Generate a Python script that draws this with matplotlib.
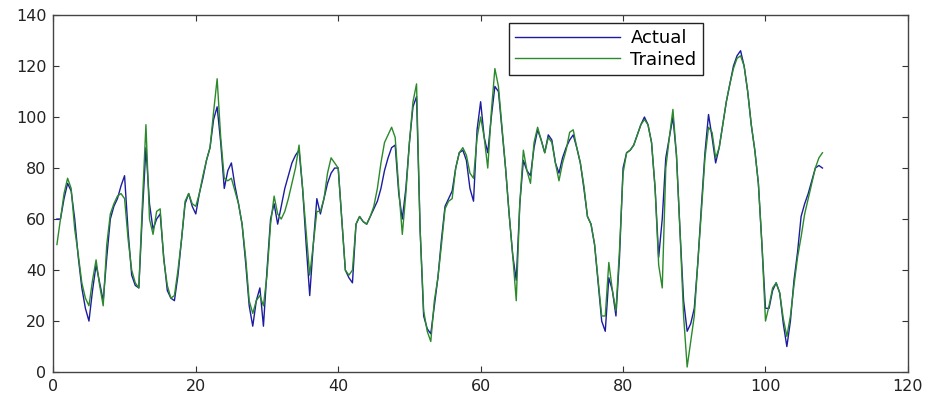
import numpy as np
import matplotlib.pyplot as plt

plt.rcParams['font.family'] = ['DejaVu Sans']

# sample positions (half steps)
x = np.arange(1, 217) * 0.5

actual = [60, 60, 68, 74, 71, 60, 45, 33, 25, 20,
          32, 42, 35, 28, 45, 60, 65, 68, 73, 77,
          55, 38, 34, 33, 62, 88, 66, 56, 60, 62,
          45, 32, 29, 28, 38, 52, 66, 70, 65, 62,
          70, 76, 83, 88, 99, 104, 90, 72, 79, 82,
          73, 66, 58, 43, 26, 18, 28, 33, 18, 40,
          60, 66, 58, 65, 72, 77, 82, 85, 87, 72,
          50, 30, 50, 68, 62, 68, 74, 78, 80, 80,
          60, 40, 37, 35, 58, 61, 59, 58, 61, 64,
          67, 72, 79, 84, 88, 89, 70, 60, 72, 90,
          104, 108, 56, 22, 17, 15, 26, 37, 52, 65,
          68, 71, 80, 86, 87, 83, 72, 67, 95, 106,
          92, 86, 100, 112, 110, 95, 80, 62, 46, 36,
          66, 83, 79, 77, 88, 95, 91, 86, 93, 91,
          82, 78, 84, 88, 91, 93, 88, 82, 72, 61,
          58, 50, 35, 20, 16, 37, 32, 22, 45, 80,
          86, 87, 89, 93, 97, 100, 97, 90, 72, 45,
          60, 84, 92, 100, 85, 55, 28, 16, 19, 25,
          43, 65, 86, 101, 92, 82, 88, 97, 106, 113,
          120, 124, 126, 120, 110, 97, 87, 74, 50, 25,
          25, 32, 35, 31, 19, 10, 20, 36, 47, 61,
          66, 70, 75, 80, 81, 80]

trained = [50, 60, 70, 76, 72, 56, 46, 35, 29, 26,
           36, 44, 34, 26, 50, 62, 66, 69, 70, 68,
           52, 40, 35, 33, 66, 97, 60, 54, 63, 64,
           44, 34, 29, 30, 40, 52, 67, 70, 66, 65,
           70, 77, 83, 88, 102, 115, 92, 76, 75, 76,
           71, 66, 58, 45, 28, 23, 28, 30, 26, 38,
           58, 69, 62, 60, 63, 68, 74, 80, 89, 72,
           55, 38, 50, 63, 63, 68, 78, 84, 82, 80,
           60, 40, 38, 40, 58, 61, 59, 58, 61, 65,
           72, 82, 90, 93, 96, 92, 72, 54, 70, 90,
           106, 113, 56, 24, 16, 12, 28, 37, 50, 64,
           67, 68, 80, 86, 88, 85, 78, 76, 92, 100,
           92, 80, 102, 119, 112, 96, 80, 62, 46, 28,
           66, 87, 79, 74, 90, 96, 91, 86, 92, 90,
           82, 75, 82, 87, 94, 95, 88, 82, 73, 61,
           58, 50, 36, 22, 22, 43, 32, 24, 48, 78,
           86, 87, 89, 93, 97, 99, 97, 90, 72, 42,
           33, 80, 92, 103, 85, 55, 22, 2, 12, 22,
           43, 63, 84, 96, 94, 84, 88, 97, 106, 113,
           119, 123, 124, 120, 110, 97, 87, 74, 50, 20,
           26, 33, 35, 31, 21, 14, 22, 34, 45, 53,
           62, 68, 74, 80, 84, 86]

fig = plt.figure(figsize=(9.36, 3.95), dpi=100)
ax = fig.add_axes([0.057, 0.058, 0.913, 0.904])

ax.plot(x, actual, color='#1c1ca0', lw=1.0, label='Actual')
ax.plot(x, trained, color='#2a8a2a', lw=1.0, label='Trained')

ax.set_xlim(0, 120)
ax.set_ylim(0, 140)
ax.set_xticks(np.arange(0, 121, 20))
ax.set_yticks(np.arange(0, 141, 20))
ax.tick_params(direction='in', top=True, right=True, labelsize=11.5,
               length=4, colors='#333333', labelcolor='#222222', pad=5)
for s in ax.spines.values():
    s.set_color('#444444')
    s.set_linewidth(1.0)

leg = ax.legend(loc='upper right', bbox_to_anchor=(0.760, 0.978),
                borderaxespad=0, fontsize=13, handlelength=5.8,
                fancybox=False, framealpha=1, borderpad=0.35,
                labelspacing=0.2, handletextpad=0.6)
leg.get_frame().set_edgecolor('#222222')
leg.get_frame().set_linewidth(1.0)

fig.savefig('out.png', dpi=100, facecolor='white')
